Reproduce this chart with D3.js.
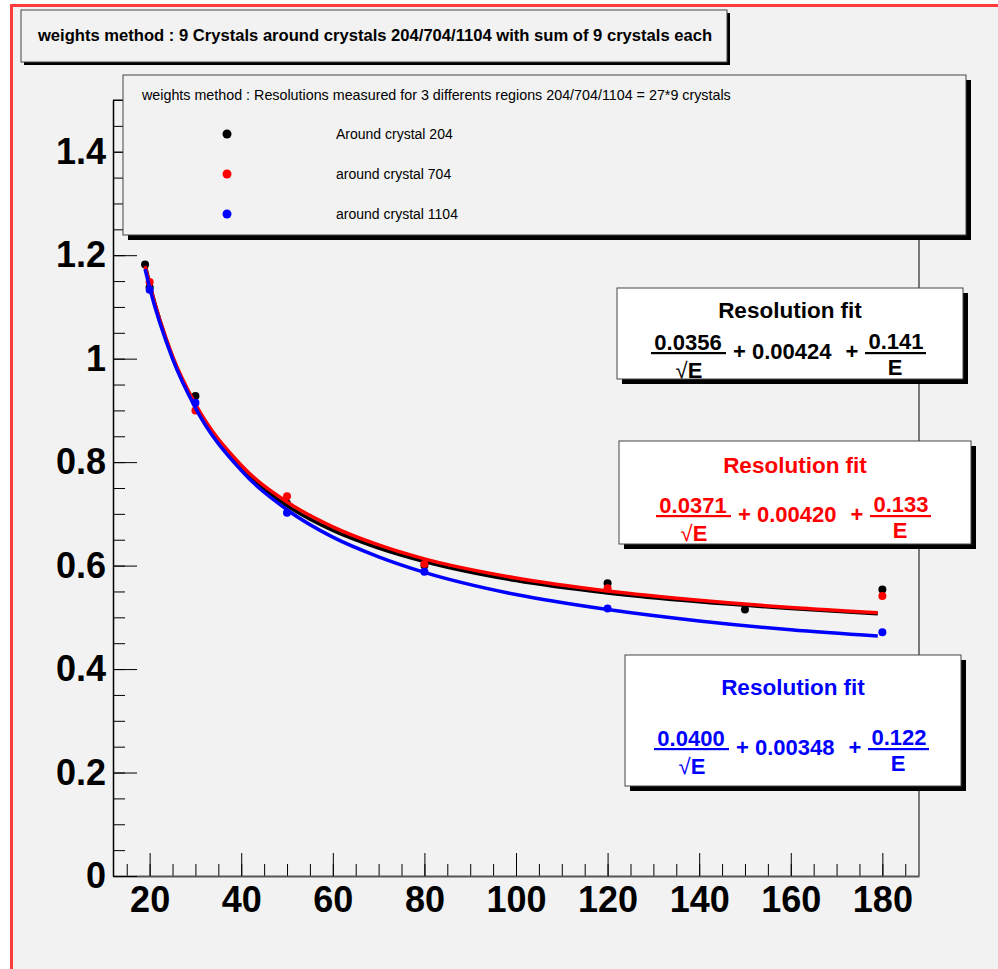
<!DOCTYPE html>
<html>
<head>
<meta charset="utf-8">
<script src="https://cdn.jsdelivr.net/npm/d3@7"></script>
<style>
  body { margin: 0; background: #fff; }
  text { font-family: "Liberation Sans", Arial, Helvetica, sans-serif; }
</style>
</head>
<body>
<div id="chart"></div>
<script>
// Energies of the measured points and the resolution (%) of each region.
const energies204 = [19, 20, 30, 50, 80, 120, 150, 180];
const values204 = [1.182, 1.138, 0.928, 0.720, 0.600, 0.566, 0.515, 0.554];
const energies704 = [20, 30, 50, 80, 120, 180];
const values704 = [1.148, 0.900, 0.734, 0.603, 0.556, 0.541];
const energies1104 = [20, 30, 50, 80, 120, 180];
const values1104 = [1.133, 0.915, 0.702, 0.588, 0.517, 0.471];

// Fit curves read along the energy range.
const curveEnergies = [19, 20, 25, 30, 40, 50, 60, 70, 80, 100, 120, 140, 160, 179];
const curve204 = [1.182, 1.145, 1.002, 0.907, 0.788, 0.716, 0.668, 0.634, 0.608, 0.571, 0.547, 0.530, 0.517, 0.507];
const curve704 = [1.179, 1.143, 1.005, 0.912, 0.794, 0.723, 0.675, 0.640, 0.613, 0.576, 0.551, 0.533, 0.519, 0.509];
const curve1104 = [1.173, 1.137, 1.000, 0.905, 0.784, 0.708, 0.655, 0.617, 0.587, 0.544, 0.515, 0.493, 0.476, 0.464];

// Legend and fit parameters
const seriesNames = ["Around crystal 204", "around crystal 704", "around crystal 1104"];
const seriesColors = ["#000000", "#ff0000", "#0000ff"];
const fitStochastic = ["0.0356", "0.0371", "0.0400"];
const fitConstant = ["0.00424", "0.00420", "0.00348"];
const fitNoise = ["0.141", "0.133", "0.122"];

// Axis ticks
const xTicks = [20, 40, 60, 80, 100, 120, 140, 160, 180];
const xTickLabels = ["20", "40", "60", "80", "100", "120", "140", "160", "180"];
const yTicks = [0, 0.2, 0.4, 0.6, 0.8, 1.0, 1.2, 1.4];
const yTickLabels = ["0", "0.2", "0.4", "0.6", "0.8", "1", "1.2", "1.4"];

const titleText = "weights method : 9 Crystals around crystals 204/704/1104 with sum of 9 crystals each";
const legendHeader = "weights method : Resolutions measured for 3 differents regions 204/704/1104 = 27*9 crystals";

const width = 998;
const height = 969;
const frame = { left: 113, right: 919, top: 100, bottom: 876 };

const svg = d3.select("#chart")
    .append("svg")
    .attr("width", width)
    .attr("height", height);

// canvas background and the red selection border
svg.append("rect").attr("width", width).attr("height", height).attr("fill", "#fff");
svg.append("rect").attr("x", 12).attr("y", 6).attr("width", width).attr("height", height).attr("fill", "#f2f2f2");
svg.append("rect").attr("x", 10).attr("y", 4).attr("width", width).attr("height", 3).attr("fill", "#ff3b3b");
svg.append("rect").attr("x", 10).attr("y", 4).attr("width", 3).attr("height", height).attr("fill", "#ff3b3b");

const x = d3.scaleLinear().domain([12, 188]).range([frame.left, frame.right]);
const y = d3.scaleLinear().domain([0, 1.5]).range([frame.bottom, frame.top]);

// frame top and right
svg.append("path")
    .attr("d", `M${frame.left},${frame.top}H${frame.right}V${frame.bottom}`)
    .attr("fill", "none")
    .attr("stroke", "#000")
    .attr("stroke-width", 1);

// minor ticks
svg.append("g")
    .attr("transform", `translate(0,${frame.bottom})`)
    .call(d3.axisBottom(x).tickValues(d3.range(15, 188, 5)).tickSize(-12).tickFormat(""))
    .call(g => g.select(".domain").remove());
svg.append("g")
    .attr("transform", `translate(${frame.left},0)`)
    .call(d3.axisLeft(y).tickValues(d3.range(0, 1.51, 0.05)).tickSize(-12).tickFormat(""))
    .call(g => g.select(".domain").remove());

// major ticks with labels
const xAxis = svg.append("g")
    .attr("transform", `translate(0,${frame.bottom})`)
    .call(d3.axisBottom(x).tickValues(xTicks).tickSizeInner(-23).tickSizeOuter(0).tickPadding(10)
        .tickFormat((d, i) => xTickLabels[i]));
const yAxis = svg.append("g")
    .attr("transform", `translate(${frame.left},0)`)
    .call(d3.axisLeft(y).tickValues(yTicks).tickSizeInner(-24).tickSizeOuter(0).tickPadding(7)
        .tickFormat((d, i) => yTickLabels[i]));

[xAxis, yAxis].forEach(g => {
    g.selectAll("text")
        .attr("font-family", "'Liberation Sans', Arial, sans-serif")
        .attr("font-weight", "bold")
        .attr("font-size", 36)
        .attr("fill", "#000");
    g.selectAll("line").attr("stroke", "#000");
});
xAxis.select(".domain").attr("stroke", "#555").attr("stroke-width", 2);
yAxis.select(".domain").attr("stroke", "#000").attr("stroke-width", 1.5);

// series: markers, then the fitted curve on top
const series = [
    { e: energies204, v: values204, curve: curve204 },
    { e: energies704, v: values704, curve: curve704 },
    { e: energies1104, v: values1104, curve: curve1104 }
];

const line = d3.line()
    .x((d, i) => x(curveEnergies[i]))
    .y(d => y(d))
    .curve(d3.curveMonotoneX);

series.forEach((s, k) => {
    svg.append("g")
        .selectAll("circle")
        .data(s.v)
        .join("circle")
        .attr("cx", (d, i) => x(s.e[i]))
        .attr("cy", d => y(d))
        .attr("r", 4)
        .attr("fill", seriesColors[k]);

    svg.append("path")
        .datum(s.curve)
        .attr("d", line)
        .attr("fill", "none")
        .attr("stroke", seriesColors[k])
        .attr("stroke-width", 3.5);
});

// a pave with a drop shadow
function pave(px, py, w, h, fill, shadow) {
    svg.append("rect")
        .attr("x", px + shadow).attr("y", py + shadow)
        .attr("width", w).attr("height", h)
        .attr("fill", "#000");
    svg.append("rect")
        .attr("x", px).attr("y", py)
        .attr("width", w).attr("height", h)
        .attr("fill", fill)
        .attr("stroke", "#444")
        .attr("stroke-width", 1);
}

// title
pave(21, 10, 706, 52, "#f2f2f2", 3);
svg.append("text")
    .attr("x", 375)
    .attr("y", 41)
    .attr("text-anchor", "middle")
    .attr("font-weight", "bold")
    .attr("font-size", 16.6)
    .text(titleText);

// legend
pave(123, 75, 843, 160, "#f2f2f2", 5);
svg.append("text")
    .attr("x", 142)
    .attr("y", 100)
    .attr("font-size", 14.3)
    .text(legendHeader);

const legendY = [134, 174, 214];
seriesNames.forEach((name, k) => {
    svg.append("circle")
        .attr("cx", 227)
        .attr("cy", legendY[k])
        .attr("r", 4.5)
        .attr("fill", seriesColors[k]);
    svg.append("text")
        .attr("x", 336)
        .attr("y", legendY[k])
        .attr("dy", "0.35em")
        .attr("font-size", 14)
        .text(name);
});

// fit result boxes
const fitBoxes = [
    { x: 617, y: 288, w: 346, h: 91, titleY: 30, numY: 62 },
    { x: 619, y: 441, w: 352, h: 103, titleY: 32, numY: 72 },
    { x: 625, y: 655, w: 336, h: 131, titleY: 40, numY: 91 }
];

fitBoxes.forEach((b, k) => {
    const col = seriesColors[k];
    const cx = b.x + b.w / 2 - 1;
    const ny = b.y + b.numY;
    pave(b.x, b.y, b.w, b.h, "#fff", 5);

    const g = svg.append("g")
        .attr("fill", col)
        .attr("font-weight", "bold")
        .attr("font-size", 22);

    g.append("text")
        .attr("x", b.x + b.w / 2)
        .attr("y", b.y + b.titleY)
        .attr("text-anchor", "middle")
        .attr("font-size", 22.5)
        .text("Resolution fit");

    // stochastic term over sqrt(E)
    g.append("text").attr("x", cx - 101).attr("y", ny).attr("text-anchor", "middle").text(fitStochastic[k]);
    g.append("rect").attr("x", cx - 138).attr("y", ny + 2).attr("width", 75).attr("height", 2.2);
    const sq = g.append("text").attr("x", cx - 100).attr("y", ny + 28).attr("text-anchor", "middle");
    sq.append("tspan").attr("font-weight", "normal").text("\u221A");
    sq.append("tspan").text("E");

    // constant term
    g.append("text").attr("x", cx - 56).attr("y", ny + 9).text("+ " + fitConstant[k]);
    g.append("text").attr("x", cx + 63).attr("y", ny + 9).attr("text-anchor", "middle").text("+");

    // noise term over E
    g.append("text").attr("x", cx + 107).attr("y", ny - 1).attr("text-anchor", "middle").text(fitNoise[k]);
    g.append("rect").attr("x", cx + 76).attr("y", ny + 2).attr("width", 61).attr("height", 2.2);
    g.append("text").attr("x", cx + 106).attr("y", ny + 25).attr("text-anchor", "middle").text("E");
});
</script>
</body>
</html>
